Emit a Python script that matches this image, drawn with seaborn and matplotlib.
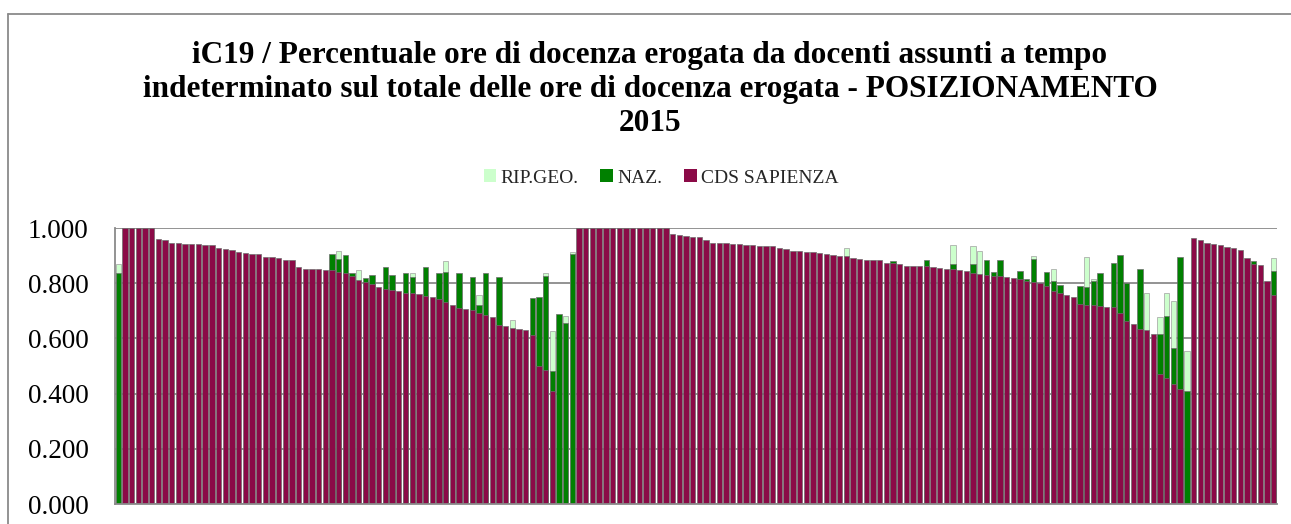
import matplotlib
matplotlib.use("Agg")
import matplotlib.pyplot as plt
import seaborn as sns
import pandas as pd
import numpy as np
from matplotlib.patches import Patch
from matplotlib.lines import Line2D
from matplotlib.ticker import FuncFormatter

N = None

# CDS SAPIENZA values (front series)
cds = [
    N, 1.000, 1.000, 1.000, 1.000, 1.000, 0.961, 0.957, 0.946, 0.944,
    0.942, 0.942, 0.941, 0.940, 0.940, 0.929, 0.925, 0.920, 0.912, 0.909,
    0.906, 0.906, 0.895, 0.894, 0.891, 0.885, 0.885, 0.859, 0.853, 0.851,
    0.850, 0.849, 0.849, 0.842, 0.838, 0.826, 0.812, 0.806, 0.798, 0.787,
    0.780, 0.774, 0.773, 0.763, 0.763, 0.760, 0.755, 0.751, 0.742, 0.733,
    0.722, 0.709, 0.705, 0.703, 0.691, 0.686, 0.678, 0.647, 0.645, 0.639,
    0.633, 0.630, 0.614, 0.501, 0.487, 0.411, N, N, N, 1.000,
    1.000, 1.000, 1.000, 1.000, 1.000, 1.000, 1.000, 1.000, 1.000, 1.000,
    1.000, 1.000, 1.000, 0.978, 0.975, 0.970, 0.968, 0.966, 0.957, 0.947,
    0.944, 0.944, 0.942, 0.941, 0.938, 0.938, 0.936, 0.936, 0.934, 0.929,
    0.924, 0.918, 0.918, 0.912, 0.912, 0.909, 0.906, 0.903, 0.900, 0.897,
    0.890, 0.888, 0.885, 0.885, 0.885, 0.874, 0.873, 0.871, 0.862, 0.862,
    0.862, 0.861, 0.857, 0.854, 0.850, 0.850, 0.847, 0.845, 0.837, 0.833,
    0.830, 0.827, 0.826, 0.822, 0.820, 0.814, 0.807, 0.806, 0.800, 0.791,
    0.771, 0.766, 0.757, 0.750, 0.726, 0.722, 0.722, 0.716, 0.715, 0.714,
    0.691, 0.662, 0.652, 0.634, 0.632, 0.616, 0.471, 0.458, 0.435, 0.418,
    N, 0.964, 0.957, 0.944, 0.942, 0.938, 0.932, 0.929, 0.919, 0.893,
    0.868, 0.866, 0.807, 0.757,
]

# NAZ. values (only where visible above the front series)
naz = [
    0.837, N, N, N, N, N, N, N, N, N,
    N, N, N, N, N, N, N, N, N, N,
    N, N, N, N, N, N, N, N, N, N,
    N, N, 0.905, 0.888, 0.902, 0.838, N, 0.819, 0.830, N,
    0.857, 0.830, N, 0.838, 0.821, N, 0.859, N, 0.838, 0.839,
    N, 0.838, N, 0.821, 0.720, 0.838, N, 0.822, N, N,
    N, N, 0.745, 0.751, 0.825, 0.481, 0.688, 0.655, 0.907, N,
    N, N, N, N, N, N, N, N, N, N,
    N, N, N, N, N, N, N, N, N, N,
    N, N, N, N, N, N, N, N, N, N,
    N, N, N, N, N, N, N, N, N, N,
    N, N, N, N, N, N, 0.879, N, N, N,
    N, 0.883, N, N, N, 0.870, N, N, 0.870, N,
    0.884, 0.839, 0.883, N, N, 0.844, 0.816, 0.888, N, 0.842,
    0.807, 0.795, N, N, 0.789, 0.787, 0.808, 0.837, N, 0.872,
    0.901, 0.802, N, 0.851, N, N, 0.616, 0.680, 0.566, 0.896,
    0.411, N, N, N, N, N, N, N, N, N,
    0.879, N, N, 0.845,
]

# RIP.GEO. values (only where visible above the other series)
rip = [
    0.870, N, N, N, N, N, N, N, N, N,
    N, N, N, N, N, N, N, N, N, N,
    N, N, N, N, N, N, N, N, N, N,
    N, N, N, 0.917, N, N, 0.847, N, N, N,
    N, N, N, N, 0.838, N, N, N, N, 0.882,
    N, N, N, N, 0.758, N, N, N, N, 0.668,
    N, N, N, N, 0.837, 0.628, N, 0.682, 0.914, N,
    N, N, N, N, N, N, N, N, N, N,
    N, N, N, N, N, N, N, N, N, N,
    N, N, N, N, N, N, N, N, N, N,
    N, N, N, N, N, N, N, N, N, 0.929,
    N, N, N, N, N, N, N, N, N, N,
    N, N, N, N, N, 0.938, N, N, 0.935, 0.917,
    N, N, N, N, N, N, N, 0.900, N, N,
    0.853, N, N, N, N, 0.896, 0.815, N, N, N,
    N, N, N, N, 0.766, N, 0.679, 0.764, 0.737, N,
    0.554, N, N, N, N, N, N, N, N, N,
    N, N, N, 0.891,
]

categories = [f"CdS {i + 1}" for i in range(len(cds))]
series_names = ["RIP.GEO.", "NAZ.", "CDS SAPIENZA"]
series_colors = ["#CCFFCC", "#008000", "#8B0A47"]
yticks = [0.0, 0.2, 0.4, 0.6, 0.8, 1.0]
title_lines = [
    "iC19 / Percentuale ore di docenza erogata da docenti assunti a tempo",
    "indeterminato sul totale delle ore di docenza erogata - POSIZIONAMENTO",
    "2015",
]

sns.set_theme(style="white")
plt.rcParams['font.family'] = ['Liberation Serif', 'DejaVu Serif']

W, H = 1291, 524
fig = plt.figure(figsize=(W / 100, H / 100), dpi=100)
fig.patch.set_facecolor("white")
ax = fig.add_axes([115 / W, 1 - 504 / H, (1277 - 115) / W, (504 - 228) / H])

edge_colors = ["#a0a0a0", "#6e6e6e", "#6e6e6e"]
for name, vals, col, ec in zip(series_names, [rip, naz, cds], series_colors, edge_colors):
    df = pd.DataFrame({
        "cat": categories,
        "val": [np.nan if v is None else v for v in vals],
    })
    sns.barplot(data=df, x="cat", y="val", order=categories, color=col,
                saturation=1, width=0.8, edgecolor=ec, linewidth=0.5,
                errorbar=None, ax=ax)

ax.set_xlim(-0.5, len(categories) - 0.5)
ax.set_ylim(0, 1.0)
ax.set_yticks(yticks)
ax.yaxis.set_major_formatter(FuncFormatter(lambda v, p: f"{v:.3f}"))
ax.set_xticks([])
ax.set_xlabel("")
ax.set_ylabel("")
ax.yaxis.grid(True, color="#8a8a8a", linewidth=1.3)
ax.set_axisbelow(True)
ax.tick_params(axis="y", length=0, pad=19, labelsize=19.5, labelcolor="black")
for s in ["top", "right"]:
    ax.spines[s].set_visible(False)
for s in ["left", "bottom"]:
    ax.spines[s].set_color("#8a8a8a")
    ax.spines[s].set_linewidth(1.3)

# title
for line, base in zip(title_lines, [63, 97, 131]):
    fig.text(650 / W, 1 - base / H, line, ha="center", va="baseline",
             fontsize=22.5, fontweight="bold", color="black")

# legend
handles = [Patch(facecolor=c, edgecolor="none") for c in series_colors]
fig.legend(handles, series_names, loc="center", bbox_to_anchor=(661 / W, 1 - 178 / H),
           ncol=3, frameon=False, fontsize=14, handlelength=0.65, handleheight=0.65,
           handletextpad=0.2, columnspacing=1.15)

# outer chart border
fig.add_artist(Line2D([8 / W, 8 / W], [0, 1 - 14 / H], transform=fig.transFigure,
                      color="#8a8a8a", linewidth=1.3))
fig.add_artist(Line2D([8 / W, 1], [1 - 14 / H, 1 - 14 / H], transform=fig.transFigure,
                      color="#8a8a8a", linewidth=1.3))

fig.savefig("out.png", dpi=100)
